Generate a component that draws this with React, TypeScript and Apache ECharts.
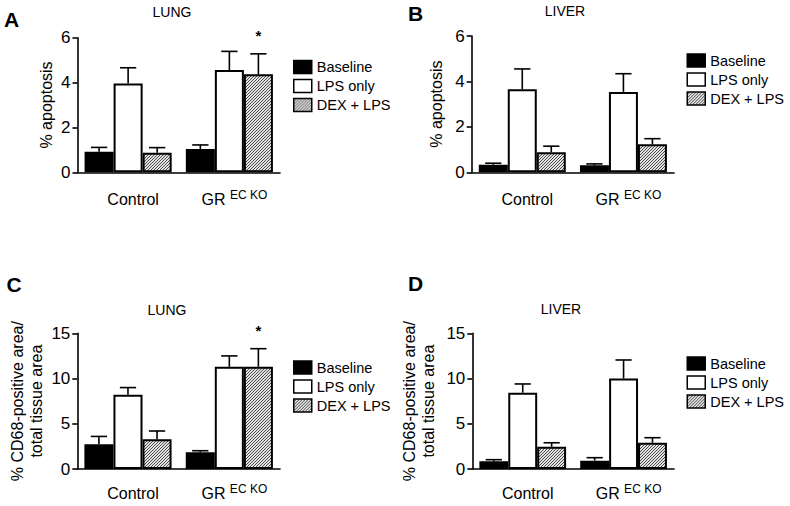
import React, { useEffect, useRef } from "react";
import * as echarts from "echarts";

const categories = ["Control", "GR EC KO"];
const seriesNames = ["Baseline", "LPS only", "DEX + LPS"];

// Panel A: lung apoptosis
const aBaseline = [0.92, 1.04];
const aBaselineErr = [0.19, 0.18];
const aLps = [3.96, 4.56];
const aLpsErr = [0.7, 0.83];
const aDex = [0.87, 4.37];
const aDexErr = [0.23, 0.91];
const aDexSig = [0, 1];

// Panel B: liver apoptosis
const bBaseline = [0.33, 0.31];
const bBaselineErr = [0.07, 0.06];
const bLps = [3.66, 3.54];
const bLpsErr = [0.89, 0.8];
const bDex = [0.88, 1.23];
const bDexErr = [0.27, 0.25];
const bDexSig = [0, 0];

// Panel C: lung CD68
const cBaseline = [2.73, 1.84];
const cBaselineErr = [0.87, 0.18];
const cLps = [8.2, 11.3];
const cLpsErr = [0.8, 1.2];
const cDex = [3.3, 11.3];
const cDexErr = [0.9, 2.0];
const cDexSig = [0, 1];

// Panel D: liver CD68
const dBaseline = [0.85, 0.92];
const dBaselineErr = [0.18, 0.33];
const dLps = [8.43, 10.0];
const dLpsErr = [0.97, 2.05];
const dDex = [2.46, 2.9];
const dDexErr = [0.44, 0.56];
const dDexSig = [0, 0];

const apoTicks = { min: 0, max: 6, interval: 2 };
const cd68Ticks = { min: 0, max: 15, interval: 5 };

const FONT = '"Liberation Sans", Arial, Helvetica, sans-serif';
const CAT_GAP = 0.14;

function makeHatch() {
  const c = document.createElement("canvas");
  c.width = 3;
  c.height = 3;
  const ctx = c.getContext("2d")!;
  ctx.fillStyle = "#e2e2e2";
  ctx.fillRect(0, 0, 3, 3);
  ctx.strokeStyle = "#3c3c3c";
  ctx.lineWidth = 0.9;
  ctx.beginPath();
  ctx.moveTo(0, 3);
  ctx.lineTo(3, 0);
  ctx.moveTo(-1, 1);
  ctx.lineTo(1, -1);
  ctx.moveTo(2, 4);
  ctx.lineTo(4, 2);
  ctx.stroke();
  return c;
}

export default function App() {
  const ref = useRef<HTMLDivElement>(null);
  useEffect(() => {
    document.body.style.margin = "0";
    const chart = echarts.init(ref.current!, null, { renderer: "svg" });
    const hatch = { image: makeHatch(), repeat: "repeat" };
    const fills = ["#000", "#fff", hatch];

    const panels = [
      {
        grid: { left: 77.5, top: 37.7, width: 202.5, height: 134.6 },
        ticks: apoTicks,
        name: "% apoptosis",
        nameGap: 22,
        labelMargin: 17,
        legend: { left: 293, top: 59.5 },
        vals: [aBaseline, aLps, aDex],
        errs: [aBaselineErr, aLpsErr, aDexErr],
        sig: aDexSig,
      },
      {
        grid: { left: 471.7, top: 36, width: 202.3, height: 136.3 },
        ticks: apoTicks,
        name: "% apoptosis",
        nameGap: 26,
        labelMargin: 17,
        legend: { left: 686.5, top: 53 },
        vals: [bBaseline, bLps, bDex],
        errs: [bBaselineErr, bLpsErr, bDexErr],
        sig: bDexSig,
      },
      {
        grid: { left: 77.3, top: 333.3, width: 202.7, height: 135.7 },
        ticks: cd68Ticks,
        name: "% CD68-positive area/\ntotal tissue area",
        nameGap: 31,
        labelMargin: 14,
        legend: { left: 293, top: 360 },
        vals: [cBaseline, cLps, cDex],
        errs: [cBaselineErr, cLpsErr, cDexErr],
        sig: cDexSig,
      },
      {
        grid: { left: 472.3, top: 333.3, width: 201.7, height: 135.7 },
        ticks: cd68Ticks,
        name: "% CD68-positive area/\ntotal tissue area",
        nameGap: 34,
        labelMargin: 14,
        legend: { left: 686.5, top: 356 },
        vals: [dBaseline, dLps, dDex],
        errs: [dBaselineErr, dLpsErr, dDexErr],
        sig: dDexSig,
      },
    ];

    const grids: any[] = [];
    const xAxes: any[] = [];
    const yAxes: any[] = [];
    const legends: any[] = [];
    const series: any[] = [];

    panels.forEach((p, i) => {
      grids.push({ ...p.grid, containLabel: false });
      xAxes.push({
        type: "category",
        gridIndex: i,
        data: categories,
        axisLine: { show: true, lineStyle: { color: "#000", width: 1.6 } },
        axisTick: { show: false },
        axisLabel: {
          interval: 0,
          hideOverlap: false,
          margin: p.labelMargin,
          color: "#000",
          fontSize: 16,
          fontFamily: FONT,
          padding: [0, 0, 0, 10],
          formatter: (v: string) =>
            v === "GR EC KO" ? "{m|GR} {s|EC KO}" : "{m|" + v + "}",
          rich: {
            m: { fontSize: 16, fontFamily: FONT, color: "#000", lineHeight: 18, verticalAlign: "bottom" },
            s: { fontSize: 12, fontFamily: FONT, color: "#000", verticalAlign: "top" },
          },
        },
      });
      yAxes.push({
        type: "value",
        gridIndex: i,
        min: p.ticks.min,
        max: p.ticks.max,
        interval: p.ticks.interval,
        name: p.name,
        nameLocation: "middle",
        nameRotate: 90,
        nameGap: p.nameGap,
        nameTextStyle: { fontSize: 16, fontFamily: FONT, color: "#000", lineHeight: 19 },
        axisLine: { show: true, lineStyle: { color: "#000", width: 1.6 } },
        axisTick: { show: true, length: 5, lineStyle: { color: "#000", width: 1.6 } },
        axisLabel: { margin: 7, color: "#000", fontSize: 17, fontFamily: FONT },
        splitLine: { show: false },
      });
      legends.push({
        left: p.legend.left,
        top: p.legend.top,
        orient: "vertical",
        itemWidth: 18,
        itemHeight: 13,
        itemGap: 4,
        icon: "rect",
        selectedMode: false,
        padding: 0,
        data: seriesNames,
        itemStyle: { borderColor: "#000", borderWidth: 1.5 },
        textStyle: { fontSize: 14.5, fontFamily: FONT, color: "#000" },
      });
      seriesNames.forEach((n, s) => {
        series.push({
          type: "bar",
          name: n,
          xAxisIndex: i,
          yAxisIndex: i,
          data: p.vals[s],
          barGap: "0%",
          barCategoryGap: CAT_GAP * 100 + "%",
          itemStyle: { color: fills[s], borderColor: "#000", borderWidth: 2 },
          z: 2,
        });
      });
      const errData: number[][] = [];
      categories.forEach((_, c) => {
        seriesNames.forEach((__, s) => {
          const sig = s === 2 ? p.sig[c] : 0;
          errData.push([c, s, p.vals[s][c], p.errs[s][c], sig]);
        });
      });
      series.push({
        type: "custom",
        xAxisIndex: i,
        yAxisIndex: i,
        z: 3,
        silent: true,
        data: errData,
        renderItem: (params: any, api: any) => {
          const c = api.value(0);
          const s = api.value(1);
          const v = api.value(2);
          const e = api.value(3);
          const st = api.value(4);
          const base = api.coord([c, v]);
          const top = api.coord([c, v + e]);
          const band = api.size([1, 0])[0];
          const bw = (band * (1 - CAT_GAP)) / 3;
          const x = base[0] + (s - 1) * bw;
          const half = bw * 0.28;
          const children: any[] = [
            { type: "line", shape: { x1: x, y1: base[1], x2: x, y2: top[1] }, style: { stroke: "#000", lineWidth: 1.6 } },
            { type: "line", shape: { x1: x - half, y1: top[1], x2: x + half, y2: top[1] }, style: { stroke: "#000", lineWidth: 1.6 } },
          ];
          if (st) {
            children.push({
              type: "text",
              x: x,
              y: top[1] - 18,
              style: { text: "*", fontSize: 15, fontWeight: "bold", fontFamily: FONT, fill: "#000", textAlign: "center", textVerticalAlign: "middle" },
            });
          }
          return { type: "group", children };
        },
      });
    });

    const txt = (text: string, x: number, y: number, size: number, bold: boolean) => ({
      type: "text",
      x,
      y,
      style: {
        text,
        fontSize: size,
        fontWeight: bold ? "bold" : "normal",
        fontFamily: FONT,
        fill: "#000",
        textAlign: "center",
        textVerticalAlign: "middle",
      },
    });

    chart.setOption({
      animation: false,
      backgroundColor: "#fff",
      textStyle: { fontFamily: FONT },
      grid: grids,
      xAxis: xAxes,
      yAxis: yAxes,
      legend: legends,
      series,
      graphic: [
        txt("A", 11.5, 19.5, 21, true),
        txt("B", 415.5, 13, 21, true),
        txt("C", 14, 284.5, 21, true),
        txt("D", 415.5, 283.5, 21, true),
        txt("LUNG", 172, 12, 14, false),
        txt("LIVER", 565, 10.5, 14, false),
        txt("LUNG", 167, 310, 14, false),
        txt("LIVER", 561, 309, 14, false),
      ],
    });
    return () => chart.dispose();
  }, []);
  return <div ref={ref} style={{ width: 790, height: 506 }} />;
}
